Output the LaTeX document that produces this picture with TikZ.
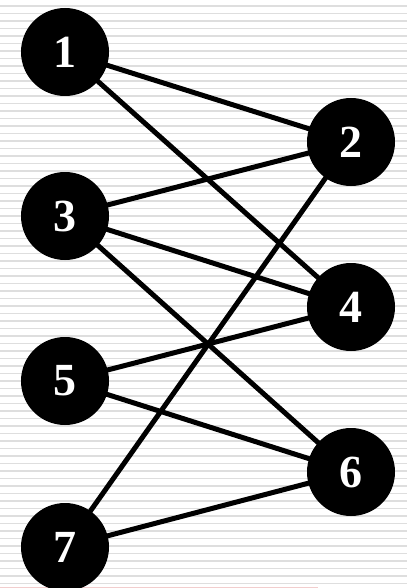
\documentclass[tikz,border=0pt]{standalone}
\usepackage{fontspec}
\setmainfont{Liberation Serif}
\pgfdeclarelayer{bg}
\pgfdeclarelayer{edges}
\pgfsetlayers{bg,edges,main}
\definecolor{stripec}{RGB}{222,222,222}
\definecolor{pinkc}{RGB}{242,205,205}
\begin{document}
\begin{tikzpicture}[x=1pt,y=-1pt,
  vert/.style={circle,fill=black,minimum size=88pt,inner sep=0pt,text=white,
    font=\fontsize{46}{46}\selectfont\bfseries},
  edge/.style={line width=5pt,black},
  stripe/.style={line width=1.8pt,stripec}]
\useasboundingbox (0,0) rectangle (407,588);
\begin{pgfonlayer}{bg}
  \fill[white] (0,0) rectangle (407,588);
  \foreach \i in {0,...,78} \draw[stripe] (0,6+7.5*\i) -- (407,6+7.5*\i);
  \draw[pinkc,line width=1pt] (0,587.5) -- (318,587.5);
\end{pgfonlayer}
\node[vert] (n1) at (65,52) {1};
\node[vert] (n2) at (351,142) {2};
\node[vert] (n3) at (65,216) {3};
\node[vert] (n4) at (351,307) {4};
\node[vert] (n5) at (65,381) {5};
\node[vert] (n6) at (351,472) {6};
\node[vert] (n7) at (65,547) {7};
\begin{pgfonlayer}{edges}
  \draw[edge] (n1.center) -- (n2.center);
  \draw[edge] (n1.center) -- (n4.center);
  \draw[edge] (n3.center) -- (n2.center);
  \draw[edge] (n3.center) -- (n4.center);
  \draw[edge] (n3.center) -- (n6.center);
  \draw[edge] (n5.center) -- (n4.center);
  \draw[edge] (n5.center) -- (n6.center);
  \draw[edge] (n7.center) -- (n2.center);
  \draw[edge] (n7.center) -- (n6.center);
\end{pgfonlayer}
\end{tikzpicture}
\end{document}
